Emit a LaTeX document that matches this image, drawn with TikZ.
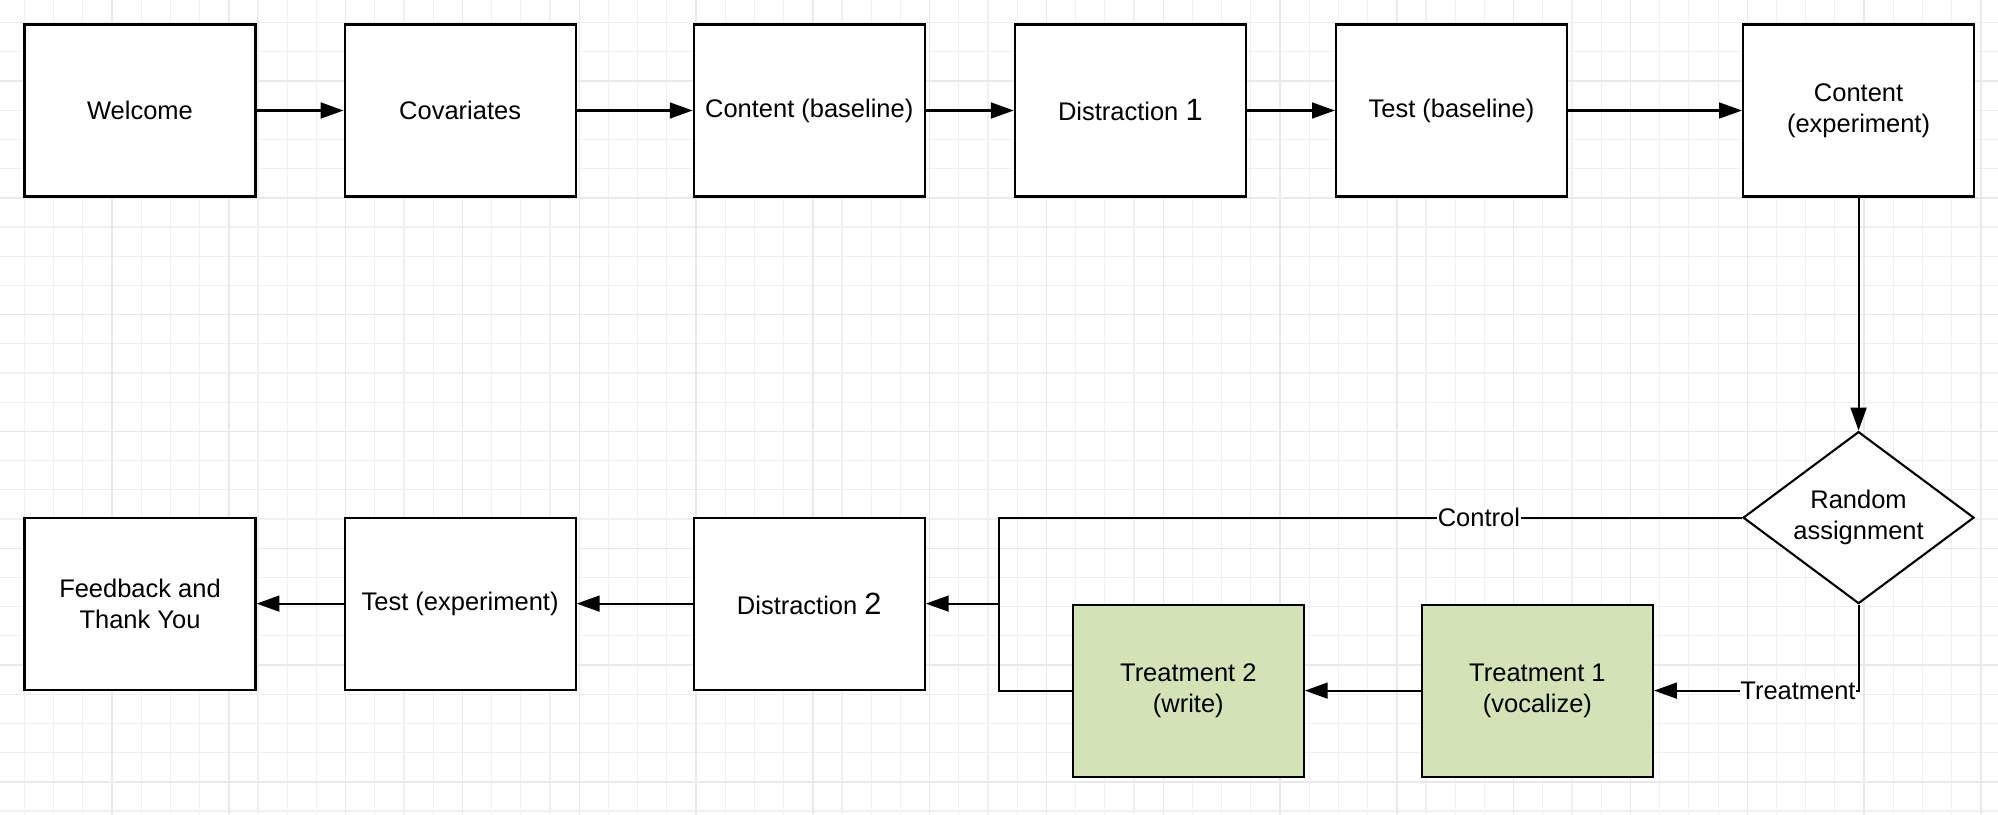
\documentclass[tikz,border=0pt]{standalone}
\usepackage{fontspec}
\setmainfont{Liberation Sans}
\usepackage{tikz}
\usetikzlibrary{arrows.meta}
\usetikzlibrary{calc}
\usetikzlibrary{positioning}
\usetikzlibrary{shapes.geometric}
\definecolor{gridminor}{HTML}{F0F0F0}
\definecolor{gridmajor}{HTML}{E9E9E9}
\definecolor{treatgreen}{HTML}{D4E3B6}

\begin{document}
\begin{tikzpicture}
[
	stage/.style = {rectangle, draw = black, fill = white, line width = 1.2pt, minimum width = 4.62cm, minimum height = 3.44cm, align = center, inner sep = 0cm, font = \fontsize{14.5}{17.5}\selectfont},
	treat/.style = {fill = treatgreen},
	choice/.style = {diamond, draw = black, fill = white, line width = 1.2pt, aspect = 1.34, minimum width = 4.62cm, minimum height = 3.44cm, align = center, inner sep = 0cm, font = \fontsize{14.5}{17.5}\selectfont},
	link/.style = {line width = 1.2pt},
	flow/.style = {link, -{Triangle[length = 13pt, width = 9pt]}},
	tag/.style = {fill = white, inner sep = 0.5pt, font = \fontsize{14.5}{17.5}\selectfont},
	gridline/.style = {draw = gridminor, line width = 0.6pt},
	gridbold/.style = {draw = gridmajor, line width = 0.8pt},
	node distance = 1.74cm and 1.74cm,
]

	% background grid
	\fill [white, use as bounding box] (0,0) rectangle (39.96,-16.28);
	\begin{scope}
		\clip (0,0) rectangle (39.96,-16.28);
		\foreach \i in {0,...,69} \draw [gridline] ({0.488 + 0.584*(\i - 1)},0) -- ++(0,-16.28);
		\foreach \j in {0,...,28} \draw [gridline] (0,{-0.452 - 0.584*(\j - 1)}) -- ++(39.96,0);
		\foreach \i in {0,...,18} \draw [gridbold] ({2.24 + 2.336*(\i - 1)},0) -- ++(0,-16.28);
		\foreach \j in {0,...,8} \draw [gridbold] (0,{-1.62 - 2.336*(\j - 1)}) -- ++(39.96,0);
	\end{scope}

	% top row
	\node (welcome) [stage] at (2.8,-2.21) {Welcome};
	\node (covar) [stage, right = of welcome] {Covariates};
	\node (contbase) [stage, right = 2.32cm of covar] {Content (baseline)};
	\node (dist1) [stage, right = 1.76cm of contbase] {Distraction {\fontsize{17.5}{17.5}\selectfont 1}};
	\node (testbase) [stage, right = 1.76cm of dist1] {Test (baseline)};
	\node (contexp) [stage, right = 3.48cm of testbase] {Content\\(experiment)};
	%
	\node (rand) [choice, below = 4.66cm of contexp] {Random\\assignment};

	% bottom row
	\node (feedback) [stage, below = 6.38cm of welcome] {Feedback and\\Thank You};
	\node (testexp) [stage, right = of feedback] {Test (experiment)};
	\node (dist2) [stage, right = 2.32cm of testexp] {Distraction {\fontsize{17.5}{17.5}\selectfont 2}};
	\node (treat2) [stage, treat, right = 2.92cm of dist2, yshift = -1.74cm] {Treatment 2\\(write)};
	\node (treat1) [stage, treat, right = 2.32cm of treat2] {Treatment 1\\(vocalize)};
	\coordinate (join) at ($(dist2.east) + (1.46cm,0)$);

	% arrows
	\draw [flow] (welcome) -- (covar);
	\draw [flow] (covar) -- (contbase);
	\draw [flow] (contbase) -- (dist1);
	\draw [flow] (dist1) -- (testbase);
	\draw [flow] (testbase) -- (contexp);
	\draw [flow] (contexp) -- (rand);
	%
	\draw [link] (rand.west) -| node [tag, pos = 0.177] {Control} (join);
	\draw [flow] (rand.south) |- node [tag, pos = 0.5, anchor = east, xshift = -0.6pt] {Treatment} (treat1.east);
	\draw [flow] (treat1) -- (treat2);
	\draw [link] (treat2.west) -| (join);
	\draw [flow] (join) -- (dist2.east);
	%
	\draw [flow] (dist2) -- (testexp);
	\draw [flow] (testexp) -- (feedback);

\end{tikzpicture}
\end{document}
